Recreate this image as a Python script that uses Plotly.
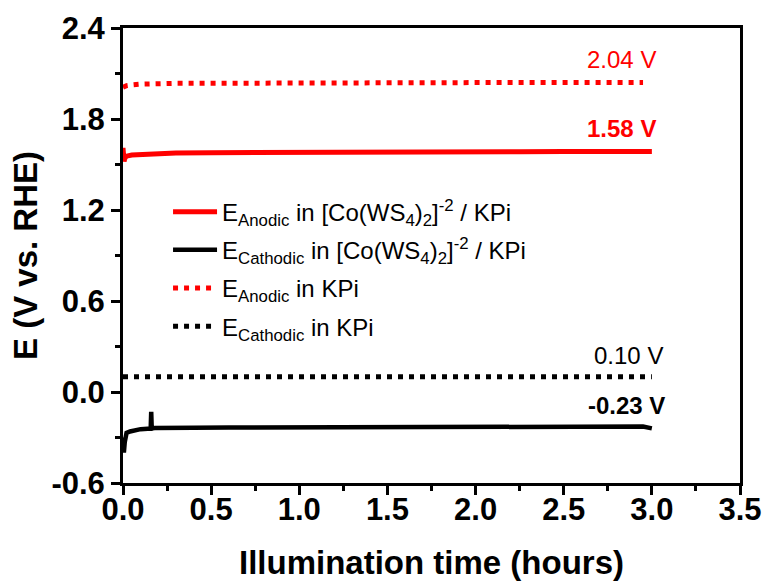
import plotly.graph_objects as go

# ---- data ----
t_anodic_co = [0.0, 0.003, 0.006, 0.01, 0.02, 0.03, 0.05, 0.08, 0.12, 0.2, 0.3, 0.5, 0.75,
               1.0, 1.25, 1.5, 1.75, 2.0, 2.25, 2.5, 2.75, 3.0]
e_anodic_co = [1.61, 1.55, 1.52, 1.54, 1.555, 1.56, 1.563, 1.565, 1.568, 1.572, 1.575, 1.578,
               1.58, 1.581, 1.582, 1.583, 1.582, 1.583, 1.584, 1.585, 1.584, 1.585]

t_cathodic_co = [0.0, 0.005, 0.01, 0.015, 0.02, 0.04, 0.07, 0.1, 0.14, 0.157, 0.16, 0.163,
                 0.18, 0.25, 0.4, 0.6, 1.0, 1.5, 2.0, 2.5, 2.8, 2.95, 3.0]
e_cathodic_co = [-0.30, -0.40, -0.33, -0.28, -0.27, -0.26, -0.25, -0.245, -0.242, -0.242,
                 -0.13, -0.24, -0.238, -0.236, -0.235, -0.234, -0.233, -0.232, -0.232,
                 -0.23, -0.225, -0.228, -0.24]

t_anodic_kpi = [0.0, 0.02, 0.05, 0.1, 0.3, 0.6, 1.0, 1.5, 2.0, 2.5, 2.95]
e_anodic_kpi = [2.01, 2.02, 2.025, 2.03, 2.035, 2.037, 2.038, 2.04, 2.04, 2.04, 2.041]

t_cathodic_kpi = [0.0, 0.5, 1.0, 1.5, 2.0, 2.5, 3.0]
e_cathodic_kpi = [0.10, 0.10, 0.10, 0.10, 0.10, 0.10, 0.10]

series_names = [
    "E<sub>Anodic</sub> in [Co(WS<sub>4</sub>)<sub>2</sub>]<sup>-2</sup> / KPi",
    "E<sub>Cathodic</sub> in [Co(WS<sub>4</sub>)<sub>2</sub>]<sup>-2</sup> / KPi",
    "E<sub>Anodic</sub> in KPi",
    "E<sub>Cathodic</sub> in KPi",
]

label_texts = ["2.04 V", "1.58 V", "0.10 V", "-0.23 V"]
label_x = [2.83, 2.83, 2.865, 2.855]
label_y = [2.19, 1.735, 0.24, -0.09]
label_colors = ["#ff0000", "#ff0000", "#000000", "#000000"]
label_weights = ["normal", "bold", "normal", "bold"]

x_ticks = [0.0, 0.5, 1.0, 1.5, 2.0, 2.5, 3.0, 3.5]
y_ticks = [-0.6, 0.0, 0.6, 1.2, 1.8, 2.4]

FONT = "Liberation Sans, Arial, sans-serif"

fig = go.Figure()
fig.add_trace(go.Scatter(x=t_anodic_co, y=e_anodic_co, mode="lines", name=series_names[0],
                         legendgroup="a", line=dict(color="#ff0000", width=5)))
fig.add_trace(go.Scatter(x=t_cathodic_co, y=e_cathodic_co, mode="lines", name=series_names[1],
                         legendgroup="b", line=dict(color="#000000", width=4.5)))
fig.add_trace(go.Scatter(x=t_anodic_kpi, y=e_anodic_kpi, mode="lines", name=series_names[2],
                         legendgroup="c", line=dict(color="#ff0000", width=5, dash="5px,6px")))
fig.add_trace(go.Scatter(x=t_cathodic_kpi, y=e_cathodic_kpi, mode="lines", name=series_names[3],
                         legendgroup="d", line=dict(color="#000000", width=5, dash="5px,6px")))

for txt, xx, yy, c, w in zip(label_texts, label_x, label_y, label_colors, label_weights):
    fig.add_annotation(x=xx, y=yy, text=txt, showarrow=False, xref="x", yref="y",
                       font=dict(family=FONT, size=24, color=c, weight=w))

axis_common = dict(
    showline=True, linewidth=3, linecolor="black", mirror=True,
    ticks="outside", ticklen=9, tickwidth=3, tickcolor="black",
    showgrid=False, zeroline=False, automargin=False,
    tickfont=dict(family=FONT, size=31, color="black", weight="bold"),
)

fig.update_xaxes(range=[0, 3.5], tickvals=x_ticks, ticktext=[f"{v:.1f}" for v in x_ticks],
                 ticklabelstandoff=-12,
                 minor=dict(ticks="outside", ticklen=5, tickwidth=3, tickcolor="black", dtick=0.25,
                            tick0=0),
                 title=dict(text="Illumination time (hours)", standoff=25,
                            font=dict(family=FONT, size=33, color="black", weight="bold")),
                 **axis_common)
fig.update_yaxes(range=[-0.6, 2.4], tickvals=y_ticks, ticktext=[f"{v:.1f}" for v in y_ticks],
                 minor=dict(ticks="outside", ticklen=5, tickwidth=3, tickcolor="black", dtick=0.3,
                            tick0=0),
                 title=dict(text="E (V vs. RHE)", standoff=4,
                            font=dict(family=FONT, size=33, color="black", weight="bold")),
                 **axis_common)

fig.update_layout(
    width=766, height=585,
    margin=dict(l=123, r=26, t=28, b=102),
    paper_bgcolor="white", plot_bgcolor="white",
    showlegend=True,
    legend=dict(x=0.073, y=0.645, xanchor="left", yanchor="top",
                bgcolor="rgba(0,0,0,0)", itemwidth=44, tracegroupgap=4,
                font=dict(family=FONT, size=24, color="black")),
)

fig.write_html("out.html", config={"displayModeBar": False},
               post_script="document.body.style.margin='0';document.body.style.padding='0';")
